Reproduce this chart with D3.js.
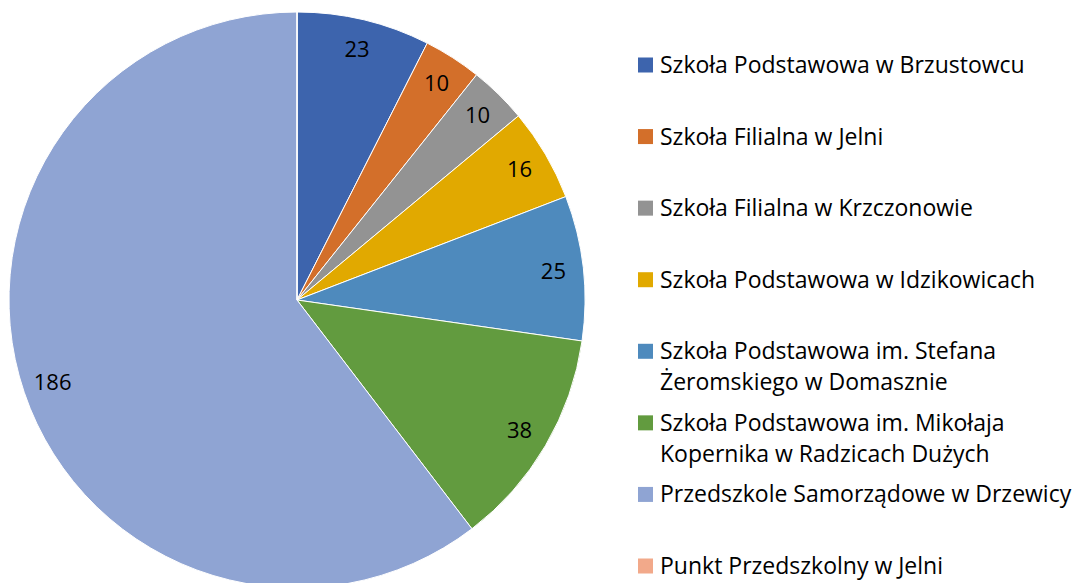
<!DOCTYPE html>
<html>
<head>
<meta charset="utf-8">
<script src="https://cdn.jsdelivr.net/npm/d3@7"></script>
<style>
  body { margin: 0; background: #fff; }
  svg { font-family: "Open Sans", sans-serif; }
</style>
</head>
<body>
<div id="chart"></div>
<script>
// categories (\n marks the legend line break)
var categories = [
  "Szkoła Podstawowa w Brzustowcu",
  "Szkoła Filialna w Jelni",
  "Szkoła Filialna w Krzczonowie",
  "Szkoła Podstawowa w Idzikowicach",
  "Szkoła Podstawowa im. Stefana\nŻeromskiego w Domasznie",
  "Szkoła Podstawowa im. Mikołaja\nKopernika w Radzicach Dużych",
  "Przedszkole Samorządowe w Drzewicy",
  "Punkt Przedszkolny w Jelni"
];
var values = [23, 10, 10, 16, 25, 38, 186, 0];
var colors = ["#3d64ad", "#d36f2a", "#939393", "#e1a900", "#4e8abd", "#629b3f", "#8fa4d3", "#f2a98a"];

var width = 1079, height = 583;
var cx = 297, cy = 300, radius = 288;

var svg = d3.select("#chart")
  .append("svg")
    .attr("width", width)
    .attr("height", height);

var color = d3.scaleOrdinal().domain(categories).range(colors);

var data = categories.map(function (c, i) { return {name: c, value: values[i]}; });

var pie = d3.pie()
  .sort(null)
  .value(function (d) { return d.value; });

var arc = d3.arc().innerRadius(0).outerRadius(radius);
var labelArc = d3.arc().innerRadius(258).outerRadius(258);

var g = svg.append("g")
  .attr("transform", "translate(" + cx + "," + cy + ")");

var arcs = pie(data);

g.selectAll("path")
  .data(arcs)
  .enter()
  .append("path")
    .attr("d", arc)
    .attr("fill", function (d) { return color(d.data.name); })
    .attr("stroke", "#ffffff")
    .attr("stroke-width", 1);

// value labels
g.selectAll("text.val")
  .data(arcs.filter(function (d) { return d.data.value > 0; }))
  .enter()
  .append("text")
    .attr("class", "val")
    .attr("transform", function (d) { return "translate(" + labelArc.centroid(d) + ")"; })
    .attr("text-anchor", "middle")
    .attr("dy", "0.35em")
    .style("font-size", "22px")
    .style("fill", "#000")
    .text(function (d) { return d.data.value; });

// legend
var ly = d3.scalePoint().domain(categories).range([65, 566]);

var legend = svg.append("g")
  .selectAll("g")
  .data(categories)
  .enter()
  .append("g")
    .attr("transform", function (d) { return "translate(638," + ly(d) + ")"; });

legend.append("rect")
  .attr("x", 0)
  .attr("y", -7.5)
  .attr("width", 15)
  .attr("height", 15)
  .attr("fill", function (d) { return color(d); });

legend.append("text")
  .attr("x", 22)
  .style("font-size", "23px")
  .style("fill", "#000")
  .each(function (d) {
    var t = d3.select(this);
    d.split("\n").forEach(function (line, i) {
      t.append("tspan")
        .attr("x", 22)
        .attr("dy", i === 0 ? "0.35em" : "31px")
        .text(line);
    });
  });
</script>
</body>
</html>
